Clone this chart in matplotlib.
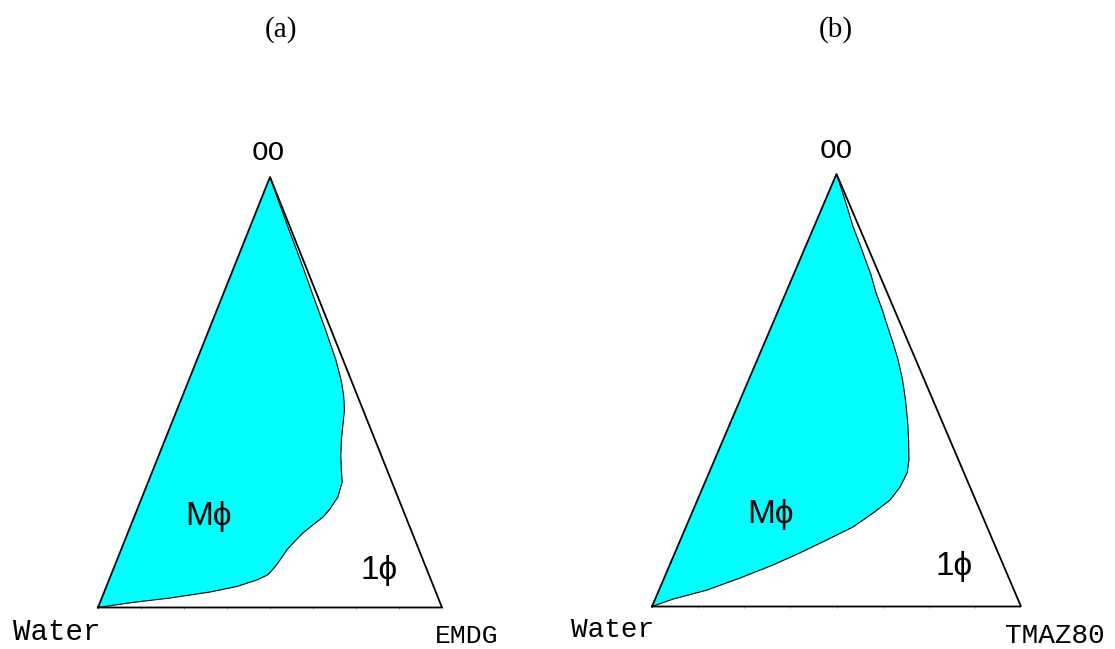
import numpy as np
import matplotlib
matplotlib.use("Agg")
import matplotlib.pyplot as plt

# phase boundary of the multiphase region
# fractions of OO and of the surfactant (water = 1 - oo - surf)
oo_a = [1.000, 0.947, 0.884, 0.807, 0.731, 0.645, 0.575, 0.529, 0.494, 0.459,
        0.424, 0.389, 0.354, 0.319, 0.292, 0.257, 0.229, 0.210, 0.192, 0.173,
        0.152, 0.134, 0.110, 0.092, 0.076, 0.064, 0.049, 0.036, 0.022, 0.011, 0.000]
surf_a = [0.000, 0.050, 0.110, 0.185, 0.257, 0.339, 0.404, 0.442, 0.467, 0.487,
          0.500, 0.513, 0.529, 0.548, 0.564, 0.569, 0.560, 0.549, 0.529, 0.509,
          0.494, 0.482, 0.474, 0.466, 0.456, 0.430, 0.380, 0.308, 0.198, 0.088, 0.000]

oo_b = [1.000, 0.940, 0.878, 0.836, 0.797, 0.767, 0.727, 0.686, 0.646, 0.609,
        0.570, 0.524, 0.478, 0.431, 0.385, 0.339, 0.309, 0.276, 0.246, 0.216,
        0.184, 0.154, 0.124, 0.096, 0.066, 0.038, 0.017, 0.000]
surf_b = [0.000, 0.053, 0.106, 0.146, 0.182, 0.210, 0.243, 0.281, 0.316, 0.349,
          0.382, 0.417, 0.448, 0.477, 0.503, 0.527, 0.537, 0.534, 0.522, 0.491,
          0.453, 0.397, 0.339, 0.280, 0.206, 0.130, 0.048, 0.000]

panels = ["(a)", "(b)"]
surfactants = ["EMDG", "TMAZ80"]


def to_xy(oo, surf):
    oo = np.asarray(oo)
    surf = np.asarray(surf)
    return surf + oo / 2, oo


fig = plt.figure(figsize=(11.15, 6.49), dpi=100)

# axes placed so the triangles sit where they do in the picture
boxes = [[98 / 1115, 41.5 / 649, 344 / 1115, 430.5 / 649],
         [652 / 1115, 42.5 / 649, 369 / 1115, 432.5 / 649]]
data = [(oo_a, surf_a), (oo_b, surf_b)]

for box, (oo, surf) in zip(boxes, data):
    ax = fig.add_axes(box)
    x, y = to_xy(oo, surf)
    # region bounded by the curve and the Water-OO side
    ax.fill(x, y, color="#00ffff", lw=0)
    ax.plot(x, y, color="black", lw=0.8, clip_on=False,
            solid_joinstyle="round")
    ax.plot([0, 1, 0.5, 0], [0, 0, 1, 0], color="black", lw=1.3,
            clip_on=False, solid_joinstyle="miter")
    ax.set_xlim(0, 1)
    ax.set_ylim(0, 1)
    for s in ax.spines.values():
        s.set_visible(False)
    ax.set_xticks(np.linspace(0, 1, 9)[1:-1])
    ax.set_xticklabels([])
    ax.set_yticks([])
    ax.tick_params(axis="x", length=2, width=0.6, color="#999999",
                   direction="inout")
    ax.patch.set_alpha(0)

serif = ["Liberation Serif", "DejaVu Serif"]
mono = ["Liberation Mono", "DejaVu Sans Mono"]
sans = ["Liberation Sans", "DejaVu Sans"]

fig.text(281 / 1115, 1 - 30 / 649, panels[0], ha="center", va="center",
         fontsize=21, family=serif)
fig.text(836 / 1115, 1 - 30 / 649, panels[1], ha="center", va="center",
         fontsize=21, family=serif)

fig.text(268 / 1115, 1 - 153 / 649, "OO", ha="center", va="center",
         fontsize=20, family=mono)
fig.text(836 / 1115, 1 - 151 / 649, "OO", ha="center", va="center",
         fontsize=20, family=mono)
fig.text(57 / 1115, 1 - 632 / 649, "Water", ha="center", va="center",
         fontsize=21, family=mono)
fig.text(613 / 1115, 1 - 630 / 649, "Water", ha="center", va="center",
         fontsize=20, family=mono)
fig.text(467 / 1115, 1 - 636 / 649, surfactants[0], ha="center", va="center",
         fontsize=19, family=mono)
fig.text(1055 / 1115, 1 - 636 / 649, surfactants[1], ha="center", va="center",
         fontsize=20, family=mono)

fig.text(208 / 1115, 1 - 517 / 649, "M\u03d5", ha="center", va="center",
         fontsize=24, family=sans)
fig.text(379 / 1115, 1 - 570 / 649, "1\u03d5", ha="center", va="center",
         fontsize=24, family=sans)
fig.text(771 / 1115, 1 - 515 / 649, "M\u03d5", ha="center", va="center",
         fontsize=24, family=sans)
fig.text(954 / 1115, 1 - 567 / 649, "1\u03d5", ha="center", va="center",
         fontsize=24, family=sans)

fig.savefig("out.png", dpi=100)
